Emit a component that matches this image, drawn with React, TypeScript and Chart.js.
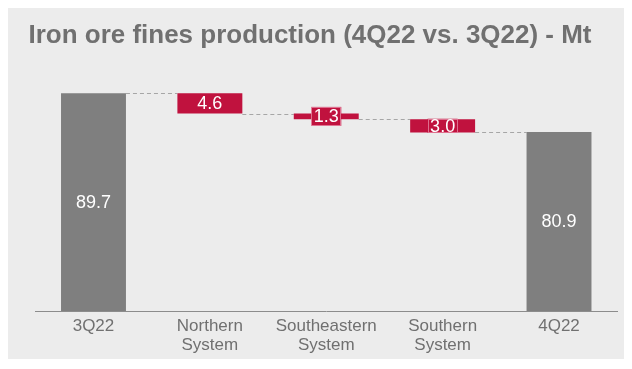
import React, { useEffect, useRef } from 'react';
import { Chart, registerables } from 'chart.js';

Chart.register(...registerables);

const TITLE = 'Iron ore fines production (4Q22 vs. 3Q22) - Mt';
const categories: (string | string[])[] = [
  '3Q22',
  ['Northern', 'System'],
  ['Southeastern', 'System'],
  ['Southern', 'System'],
  '4Q22',
];
const values = [89.7, -4.6, -1.3, -3.0, 80.9];
const isTotal = [true, false, false, false, true];
const Y_MIN = 40.2;
const Y_MAX = 100;

const GRAY = '#7f7f7f';
const RED = '#c0123e';
const TEXT = '#707070';
const FONT = '"Liberation Sans", Arial, sans-serif';

function buildBars() {
  let running = 0;
  const ranges: (number | number[])[] = [];
  const levels: number[] = [];
  values.forEach((v, i) => {
    if (isTotal[i]) {
      ranges.push(v);
      running = v;
    } else {
      ranges.push([running + v, running]);
      running += v;
    }
    levels.push(running);
  });
  return { ranges, levels };
}

export default function App() {
  const ref = useRef<HTMLCanvasElement | null>(null);

  useEffect(() => {
    if (!ref.current) return;
    const { ranges, levels } = buildBars();

    const titlePlugin = {
      id: 'customTitle',
      beforeDraw(chart: any) {
        const ctx = chart.ctx;
        ctx.save();
        ctx.font = `bold 25px ${FONT}`;
        ctx.fillStyle = TEXT;
        ctx.textAlign = 'left';
        ctx.textBaseline = 'alphabetic';
        const w = ctx.measureText(TITLE).width;
        const targetW = 563;
        const sx = targetW / w;
        ctx.translate(20.5, 34.7);
        ctx.scale(sx, 1);
        ctx.fillText(TITLE, 0, 0);
        ctx.restore();
      },
    };

    const connectorPlugin = {
      id: 'connectors',
      beforeDatasetsDraw(chart: any) {
        const ctx = chart.ctx;
        const meta = chart.getDatasetMeta(0);
        const y = chart.scales.y;
        ctx.save();
        ctx.strokeStyle = '#a6a6a6';
        ctx.lineWidth = 1;
        ctx.setLineDash([4, 3]);
        for (let i = 0; i < meta.data.length - 1; i++) {
          const a = meta.data[i];
          const b = meta.data[i + 1];
          const level = isTotal[i + 1] ? values[i + 1] : levels[i];
          const py = Math.round(y.getPixelForValue(level)) + 0.5;
          ctx.beginPath();
          ctx.moveTo(a.x + a.width / 2, py);
          ctx.lineTo(b.x - b.width / 2, py);
          ctx.stroke();
        }
        ctx.restore();
      },
    };

    const labelPlugin = {
      id: 'valueLabels',
      afterDatasetsDraw(chart: any) {
        const ctx = chart.ctx;
        const meta = chart.getDatasetMeta(0);
        const area = chart.chartArea;
        ctx.save();
        ctx.font = `18px ${FONT}`;
        ctx.textAlign = 'center';
        ctx.textBaseline = 'middle';
        meta.data.forEach((el: any, i: number) => {
          const text = Math.abs(values[i]).toFixed(1);
          const top = Math.max(area.top, Math.min(el.y, el.base));
          const bottom = Math.min(area.bottom, Math.max(el.y, el.base));
          const cy = (top + bottom) / 2;
          const bh = bottom - top;
          if (!isTotal[i] && bh < 19) {
            const w = ctx.measureText(text).width + 5;
            const h = bh >= 12 ? bh + 1 : 19;
            ctx.fillStyle = RED;
            ctx.fillRect(el.x - w / 2, cy - h / 2, w, h);
            ctx.strokeStyle = 'rgba(235, 150, 175, 0.7)';
            ctx.lineWidth = 1;
            ctx.strokeRect(
              Math.round(el.x - w / 2) + 0.5,
              Math.round(cy - h / 2) + 0.5,
              Math.round(w) - 1,
              Math.round(h) - 1
            );
          }
          ctx.fillStyle = '#ffffff';
          ctx.fillText(text, el.x, cy + 1);
        });
        ctx.restore();
      },
    };

    const chart = new Chart(ref.current, {
      type: 'bar',
      data: {
        labels: categories,
        datasets: [
          {
            data: ranges as any,
            backgroundColor: values.map((_, i) => (isTotal[i] ? GRAY : RED)),
            borderWidth: 0,
            barPercentage: 0.558,
            categoryPercentage: 1,
          },
        ],
      },
      options: {
        responsive: false,
        animation: false,
        devicePixelRatio: 1,
        layout: { padding: { left: 27.3, right: 14.8, top: 40, bottom: 0 } },
        plugins: {
          legend: { display: false },
          tooltip: { enabled: false },
          title: { display: false },
        },
        scales: {
          x: {
            type: 'category',
            offset: true,
            grid: { display: false, drawTicks: false },
            border: { display: true, color: '#8c8c8c', width: 1 },
            ticks: {
              color: TEXT,
              font: { family: FONT, size: 17, lineHeight: 1.12 },
              padding: 6,
              maxRotation: 0,
              autoSkip: false,
            },
            afterFit: (s: any) => {
              s.height = 56;
            },
          },
          y: {
            display: false,
            min: Y_MIN,
            max: Y_MAX,
          },
        },
      },
      plugins: [titlePlugin, connectorPlugin, labelPlugin],
    });

    return () => chart.destroy();
  }, []);

  return (
    <div style={{ width: 624, height: 359, background: '#ececec', marginBottom: -8 }}>
      <canvas ref={ref} width={624} height={359} style={{ display: 'block' }} />
    </div>
  );
}
